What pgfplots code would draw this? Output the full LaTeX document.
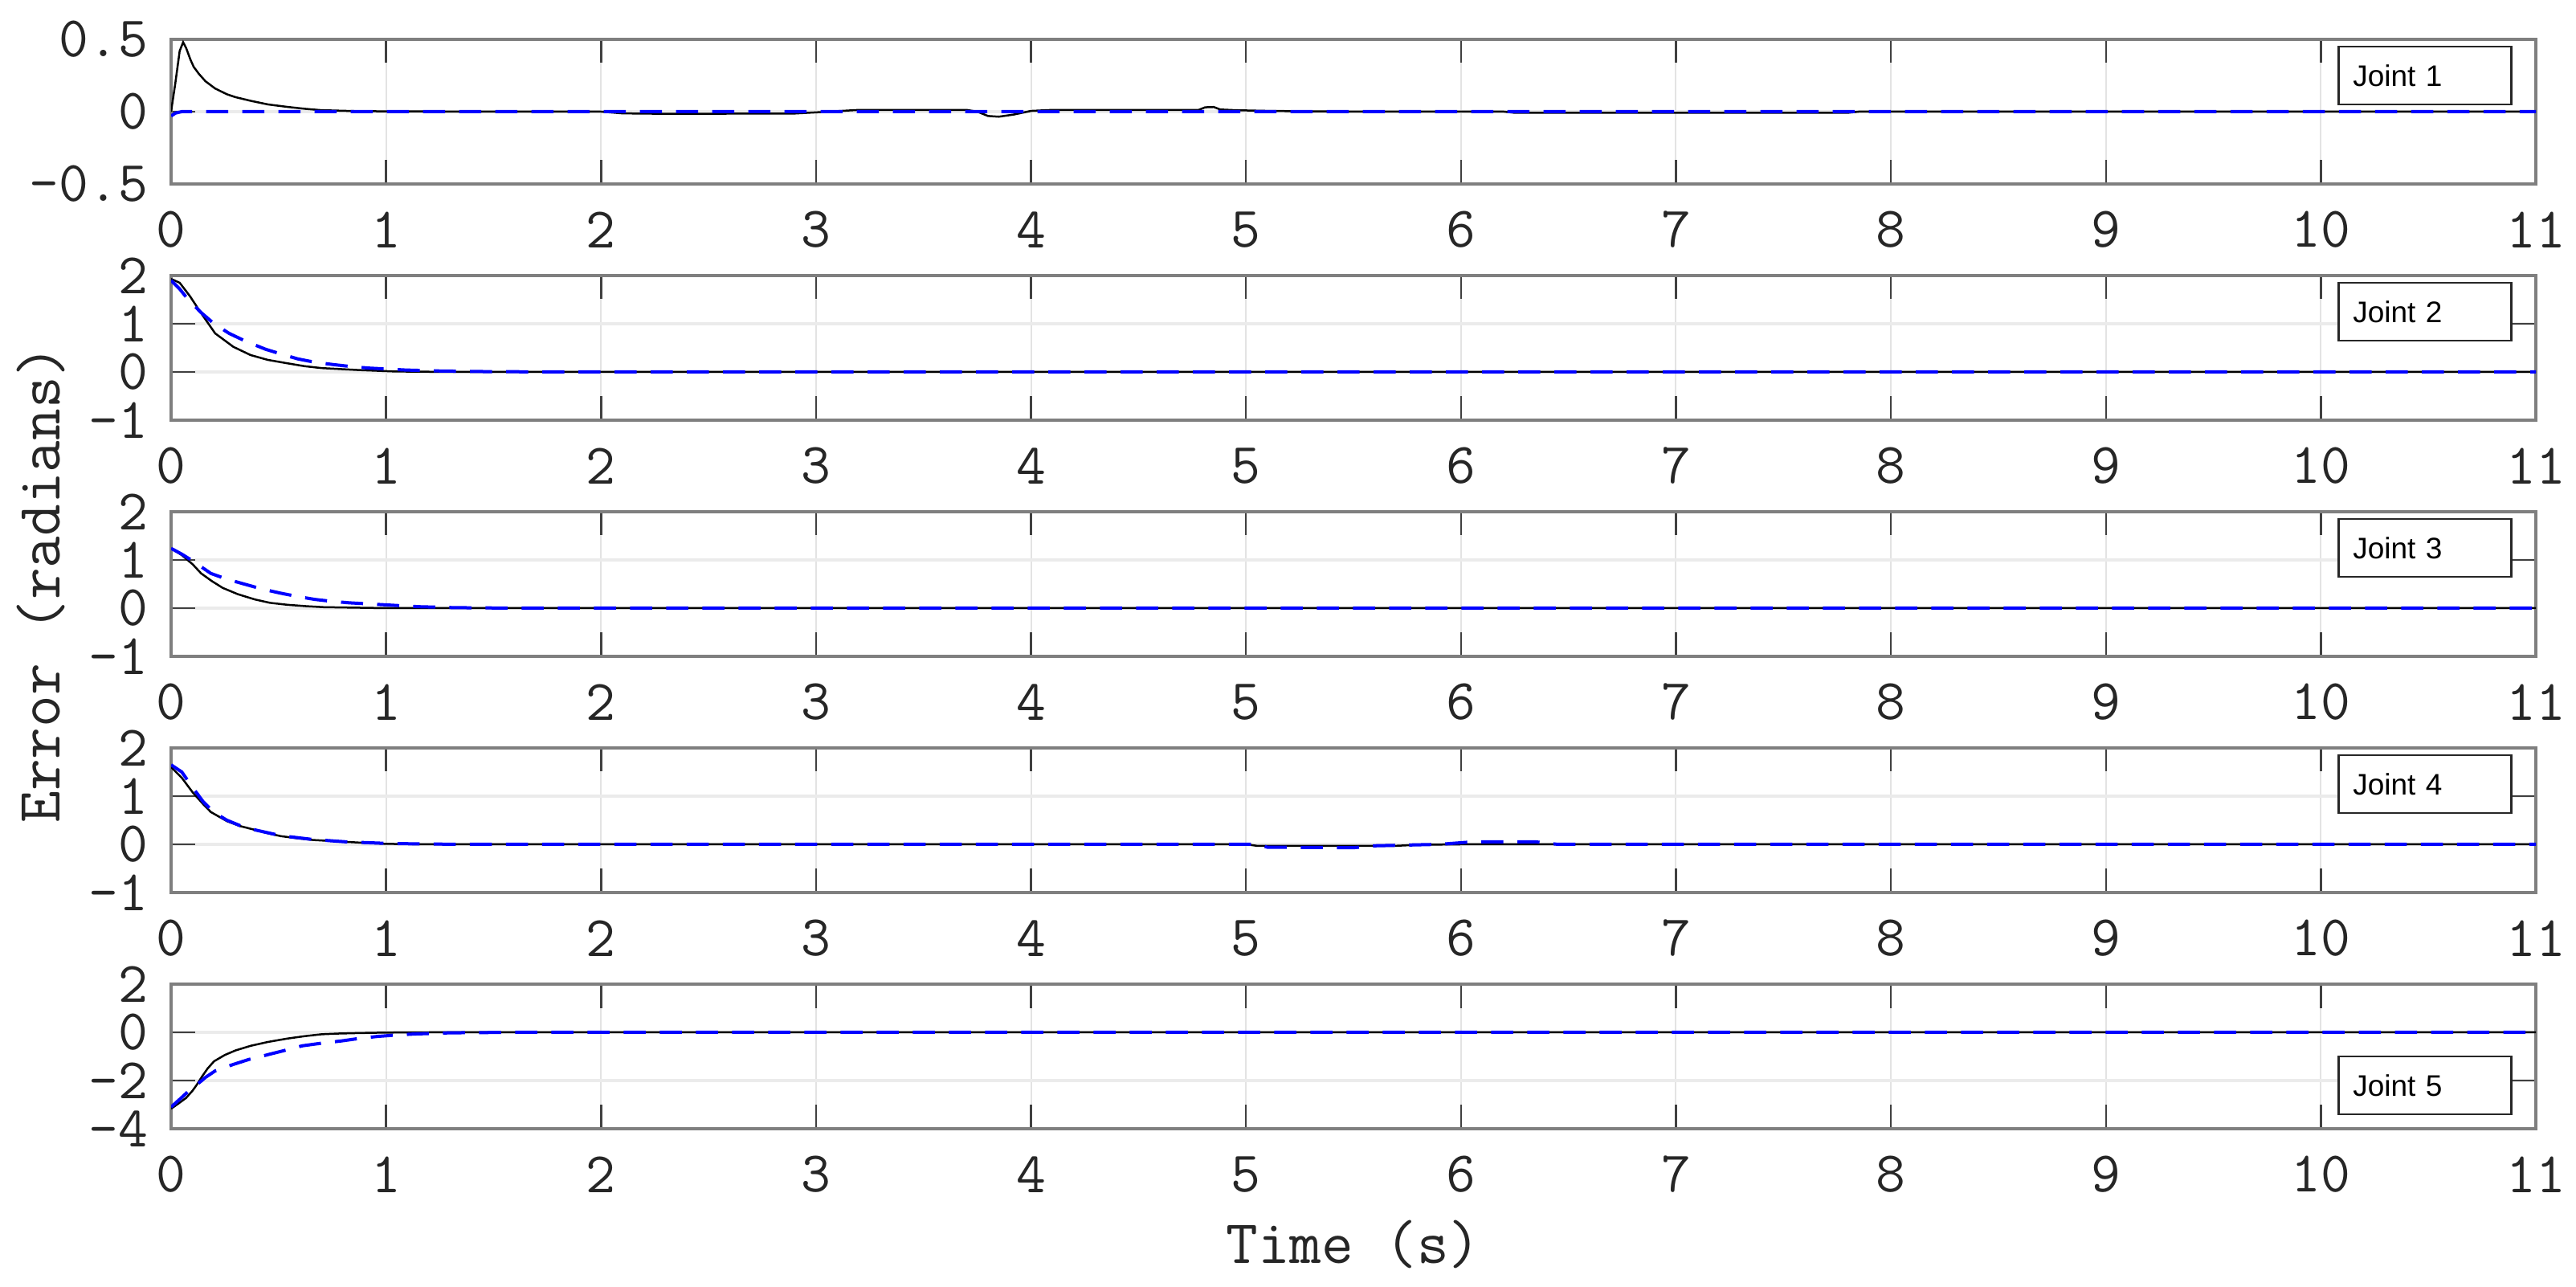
\documentclass[border=0pt]{standalone}
\usepackage{fontspec}
\newfontfamily\sansf{Liberation Sans}
\usepackage{pgfplots}
\pgfplotsset{compat=1.18}
\definecolor{framegray}{HTML}{7F7F7F}
\definecolor{tickgray}{HTML}{404040}
\definecolor{gridx}{HTML}{E3E3E3}
\definecolor{gridy}{HTML}{EBEBEB}
\definecolor{labelgray}{HTML}{262626}
\tikzset{
  leg/.style={draw=black!85, fill=white, line width=0.5pt, inner xsep=3.6pt, inner ysep=0pt,
    text width=35.8pt, minimum height=14.4pt, align=left, text=black,
    font=\sansf\fontsize{7.4}{7.4}\selectfont},
}
\pgfplotsset{
  base/.style={
    scale only axis, width=588.8pt, height=36pt,
    xmin=0, xmax=11, xtick={0,...,11},
    tick align=inside, major tick length=5.9pt,
    axis line style={draw=framegray, line width=0.8pt},
    tick style={draw=tickgray, line width=0.5pt},
    xmajorgrids, ymajorgrids,
    x grid style={gridx, line width=0.4pt},
    y grid style={gridy, line width=0.8pt},
    tick label style={font=\ttfamily\fontsize{14.3}{14.3}\selectfont, text=labelgray},
    xticklabel style={anchor=center, inner sep=0pt, yshift=-11.4pt},
    yticklabel style={anchor=east, inner sep=0pt, xshift=-5.6pt},
    /pgf/number format/assume math mode=true,
    label style={font=\ttfamily\fontsize{15.4}{15.4}\selectfont, text=labelgray, inner sep=0pt},
  },
  blk/.style={black, line width=0.5pt},
  blu/.style={blue, line width=0.8pt, dash pattern=on 5.5pt off 3.5pt},
}
\begin{document}
\begin{tikzpicture}
\path[use as bounding box] (0,0) rectangle (641.4pt,320.4pt);
% Panel 1
\begin{axis}[base, at={(42.6pt,274.6pt)}, anchor=south west,
  ymin=-0.5, ymax=0.5, ytick={-0.5,0,0.5}, yticklabels={-0.5,0,0.5}]
\addplot[blk] coordinates {(0,0) (0.02,0.2) (0.04,0.42) (0.056,0.48) (0.07,0.44) (0.09,0.36) (0.105,0.31) (0.13,0.26) (0.16,0.21) (0.205,0.16) (0.26,0.12) (0.3,0.10) (0.37,0.075) (0.45,0.05) (0.54,0.033) (0.62,0.02) (0.7,0.01) (0.85,0.004) (1.0,0.002) (1.5,0) (2.0,0) (2.1,-0.012) (2.3,-0.015) (2.9,-0.013) (3.0,-0.005) (3.2,0.012) (3.7,0.012) (3.75,0) (3.8,-0.03) (3.85,-0.035) (3.92,-0.02) (4.0,0.005) (4.1,0.012) (4.78,0.012) (4.81,0.03) (4.85,0.032) (4.88,0.015) (4.95,0.01) (5.1,0.005) (5.5,0) (6.2,0) (6.25,-0.008) (7.8,-0.008) (7.85,0) (11,0)};
\addplot[blu] coordinates {(0,-0.03) (0.02,-0.01) (0.05,0) (11,0)};
\node[leg, anchor=north east] at (rel axis cs:0.990,0.956) {Joint 1};
\end{axis}
% Panel 2
\begin{axis}[base, at={(42.6pt,215.8pt)}, anchor=south west,
  ymin=-1, ymax=2, ytick={-1,0,1,2}, yticklabels={-1,0,1,2}]
\addplot[blk] coordinates {(0,1.93) (0.04,1.85) (0.088,1.57) (0.138,1.23) (0.205,0.80) (0.29,0.52) (0.37,0.35) (0.45,0.25) (0.54,0.18) (0.62,0.12) (0.70,0.08) (0.87,0.04) (1.04,0.01) (1.3,0) (11,0)};
\addplot[blu] coordinates {(0,1.9) (0.04,1.72) (0.08,1.5) (0.14,1.23) (0.2,1.0) (0.27,0.80) (0.35,0.63) (0.44,0.47) (0.52,0.36) (0.59,0.27) (0.67,0.2) (0.76,0.15) (0.84,0.11) (0.92,0.08) (1.09,0.04) (1.25,0.02) (1.5,0.005) (2,0) (11,0)};
\node[leg, anchor=north east] at (rel axis cs:0.990,0.956) {Joint 2};
\end{axis}
% Panel 3
\begin{axis}[base, at={(42.6pt,157.0pt)}, anchor=south west,
  ymin=-1, ymax=2, ytick={-1,0,1,2}, yticklabels={-1,0,1,2},
  ylabel={Error (radians)},
  ylabel style={at={(rel axis cs:-0.055,0.5)}, anchor=center}]
\addplot[blk] coordinates {(0,1.24) (0.05,1.1) (0.1,0.91) (0.14,0.72) (0.19,0.56) (0.24,0.42) (0.31,0.29) (0.39,0.18) (0.46,0.11) (0.54,0.07) (0.63,0.04) (0.71,0.02) (0.85,0.01) (1.0,0) (11,0)};
\addplot[blu] coordinates {(0,1.24) (0.05,1.12) (0.1,0.98) (0.185,0.72) (0.26,0.6) (0.34,0.5) (0.42,0.4) (0.51,0.31) (0.59,0.24) (0.67,0.18) (0.75,0.14) (0.83,0.11) (0.91,0.09) (0.99,0.07) (1.15,0.03) (1.32,0.01) (1.6,0) (11,0)};
\node[leg, anchor=north east] at (rel axis cs:0.990,0.956) {Joint 3};
\end{axis}
% Panel 4
\begin{axis}[base, at={(42.6pt,98.2pt)}, anchor=south west,
  ymin=-1, ymax=2, ytick={-1,0,1,2}, yticklabels={-1,0,1,2}]
\addplot[blk] coordinates {(0,1.6) (0.05,1.38) (0.1,1.08) (0.15,0.83) (0.185,0.67) (0.26,0.48) (0.32,0.38) (0.39,0.30) (0.45,0.23) (0.51,0.17) (0.58,0.13) (0.66,0.09) (0.74,0.07) (0.82,0.05) (0.9,0.03) (1.0,0.01) (1.2,0) (5.0,0) (5.05,-0.03) (5.7,-0.03) (5.8,-0.01) (6.0,0) (11,0)};
\addplot[blu] coordinates {(0,1.65) (0.05,1.5) (0.1,1.18) (0.15,0.88) (0.2,0.66) (0.26,0.5) (0.32,0.39) (0.39,0.3) (0.51,0.18) (0.66,0.1) (0.82,0.05) (1.0,0.02) (1.2,0.005) (1.5,0) (5.05,0) (5.1,-0.06) (5.5,-0.07) (5.6,-0.03) (5.9,0) (6.05,0.05) (6.35,0.05) (6.45,0) (11,0)};
\node[leg, anchor=north east] at (rel axis cs:0.990,0.956) {Joint 4};
\end{axis}
% Panel 5
\begin{axis}[base, at={(42.6pt,39.4pt)}, anchor=south west,
  ymin=-4, ymax=2, ytick={-4,-2,0,2}, yticklabels={-4,-2,0,2},
  xlabel={Time (s)},
  xlabel style={at={(rel axis cs:0.5,-0.9333)}, anchor=base}]
\addplot[blk] coordinates {(0,-3.17) (0.035,-2.95) (0.07,-2.72) (0.1,-2.42) (0.12,-2.17) (0.145,-1.82) (0.17,-1.5) (0.2,-1.2) (0.25,-0.94) (0.3,-0.75) (0.37,-0.56) (0.45,-0.4) (0.54,-0.26) (0.62,-0.16) (0.70,-0.08) (0.78,-0.05) (0.87,-0.03) (1.0,-0.01) (1.2,0) (11,0)};
\addplot[blu] coordinates {(0,-3.1) (0.04,-2.78) (0.08,-2.45) (0.12,-2.17) (0.16,-1.87) (0.205,-1.6) (0.29,-1.33) (0.36,-1.13) (0.44,-0.95) (0.52,-0.77) (0.61,-0.56) (0.7,-0.45) (0.79,-0.36) (0.87,-0.26) (0.96,-0.17) (1.05,-0.11) (1.13,-0.07) (1.3,-0.02) (1.6,0) (11,0)};
\node[leg, anchor=south east] at (rel axis cs:0.990,0.094) {Joint 5};
\end{axis}
\end{tikzpicture}
\end{document}
